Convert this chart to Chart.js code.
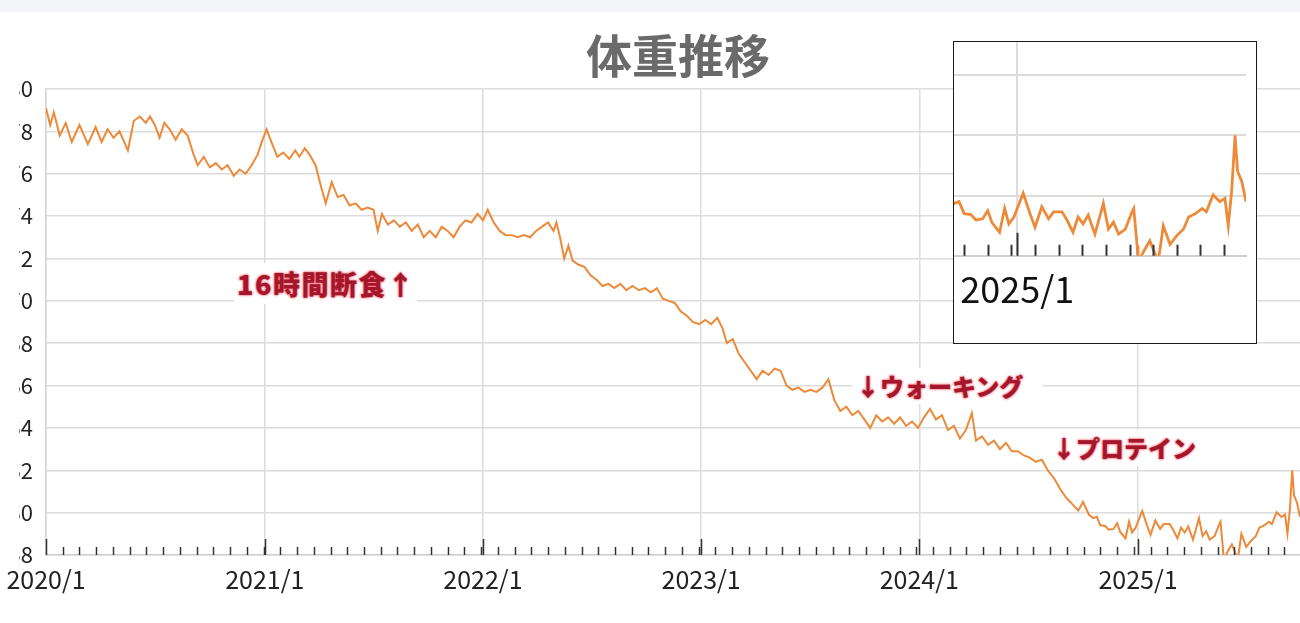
<!DOCTYPE html>
<html><head><meta charset="utf-8">
<script src="https://cdn.jsdelivr.net/npm/chart.js@4.4.1/dist/chart.umd.min.js"></script>
<style>
html,body{margin:0;padding:0;background:#fff;width:1300px;height:623px;overflow:hidden;}
#wrap{position:relative;width:1300px;height:623px;overflow:hidden;}
#topband{position:absolute;left:0;top:0;width:1300px;height:11px;background:#f4f5f9;box-shadow:0 1px 2px rgba(0,0,0,0.05);}
#title{position:absolute;left:578px;top:23px;width:200px;text-align:center;font:bold 46px "Noto Sans CJK JP";color:#6a6a6a;line-height:60px;}
#main{position:absolute;left:0;top:0;}
#inset{position:absolute;left:953px;top:41px;width:304px;height:303px;box-sizing:border-box;border:1.5px solid #1a1a1a;background:#fff;}
#insetc{position:absolute;left:0;top:0;}
.note{position:absolute;background:#fff;color:#a3172c;font-family:"Noto Sans CJK JP";font-weight:900;white-space:nowrap;
 text-shadow:0 0 2px #ff4d5e,0 0 3px #ff8a96;box-sizing:border-box;}
</style></head>
<body><div id="wrap">
<div id="topband"></div>
<canvas id="main" width="1300" height="623"></canvas>
<div id="title">体重推移</div>
<div class="note" style="left:234px;top:263px;width:183px;height:41px;line-height:41px;font-size:27px;padding-left:3px;letter-spacing:1.5px;">16時間断食↑</div>
<div class="note" style="left:852px;top:368px;width:191px;height:36px;line-height:36px;font-size:24px;padding-left:4px;">↓ウォーキング</div>
<div class="note" style="left:1048px;top:430px;width:157px;height:36px;line-height:36px;font-size:24px;padding-left:4px;">↓プロテイン</div>
<div id="inset"><canvas id="insetc" width="301" height="300"></canvas></div>
</div>
<script>
// ---- data ----
const dates = [
'2020-01-01','2020-01-08','2020-01-14','2020-01-24','2020-02-03','2020-02-13','2020-02-26','2020-03-11','2020-03-24','2020-04-03',
'2020-04-13','2020-04-23','2020-05-03','2020-05-17','2020-05-27','2020-06-06','2020-06-16','2020-06-23','2020-07-01','2020-07-09',
'2020-07-17','2020-07-26','2020-08-05','2020-08-15','2020-08-25','2020-09-04','2020-09-11','2020-09-21','2020-10-01','2020-10-11',
'2020-10-21','2020-10-31','2020-11-10','2020-11-20','2020-11-30','2020-12-10','2020-12-20','2020-12-27',
'2021-01-04','2021-01-12','2021-01-22','2021-02-01','2021-02-11','2021-02-21','2021-02-28','2021-03-09','2021-03-17','2021-03-27',
'2021-04-06','2021-04-13','2021-04-23','2021-05-03','2021-05-13','2021-05-23','2021-06-02','2021-06-12','2021-06-22','2021-07-02',
'2021-07-09','2021-07-16','2021-07-26','2021-08-05','2021-08-15','2021-08-25','2021-09-04','2021-09-14','2021-09-24','2021-10-04',
'2021-10-14','2021-10-24','2021-11-03','2021-11-13','2021-11-23','2021-12-03','2021-12-13','2021-12-23',
'2022-01-01','2022-01-09','2022-01-19','2022-01-29','2022-02-08','2022-02-18','2022-02-28','2022-03-11','2022-03-21','2022-03-31',
'2022-04-10','2022-04-20','2022-04-29','2022-05-04','2022-05-10','2022-05-17','2022-05-24','2022-05-31','2022-06-10','2022-06-20',
'2022-06-30','2022-07-10','2022-07-20','2022-07-30','2022-08-09','2022-08-19','2022-08-29','2022-09-08','2022-09-19','2022-09-29',
'2022-10-09','2022-10-19','2022-10-29','2022-11-08','2022-11-18','2022-11-28','2022-12-08','2022-12-18','2022-12-29',
'2023-01-08','2023-01-18','2023-01-28','2023-02-06','2023-02-13','2023-02-23','2023-03-05','2023-03-15','2023-03-25','2023-04-04',
'2023-04-14','2023-04-24','2023-05-04','2023-05-14','2023-05-24','2023-06-03','2023-06-13','2023-06-23','2023-07-03','2023-07-13',
'2023-07-23','2023-08-02','2023-08-12','2023-08-22','2023-09-01','2023-09-11','2023-09-21','2023-10-01','2023-10-11','2023-10-21',
'2023-10-31','2023-11-10','2023-11-20','2023-11-30','2023-12-10','2023-12-20','2023-12-30',
'2024-01-09','2024-01-19','2024-01-29','2024-02-08','2024-02-18','2024-02-28','2024-03-09','2024-03-19','2024-03-29','2024-04-05',
'2024-04-15','2024-04-25','2024-05-05','2024-05-15','2024-05-25','2024-06-04','2024-06-14','2024-06-24','2024-07-04','2024-07-14',
'2024-07-24','2024-08-03','2024-08-14','2024-08-24','2024-09-03','2024-09-13','2024-09-23','2024-10-01','2024-10-11','2024-10-18',
'2024-10-24','2024-10-30','2024-11-07','2024-11-13','2024-11-21','2024-11-27','2024-12-02','2024-12-11','2024-12-17','2024-12-22',
'2024-12-28',
'2025-01-08','2025-01-16','2025-01-22','2025-01-30','2025-02-07','2025-02-13','2025-02-23','2025-03-01','2025-03-08','2025-03-14',
'2025-03-20','2025-03-26','2025-04-03','2025-04-13','2025-04-19','2025-04-25','2025-05-01','2025-05-09','2025-05-17','2025-05-19',
'2025-05-23','2025-05-24','2025-06-01','2025-06-07','2025-06-17','2025-06-23','2025-07-01','2025-07-09','2025-07-17','2025-07-23',
'2025-07-31','2025-08-08','2025-08-13','2025-08-21','2025-08-29','2025-09-04','2025-09-08','2025-09-12','2025-09-16','2025-09-19',
'2025-09-24','2025-09-29'
];
const weights = [
79.1,78.3,78.9,77.8,78.4,77.5,78.3,77.4,78.2,77.5,
78.1,77.7,78.0,77.1,78.5,78.7,78.4,78.7,78.3,77.7,
78.4,78.1,77.6,78.1,77.8,76.9,76.4,76.8,76.3,76.5,
76.2,76.4,75.9,76.2,76.0,76.4,76.9,77.5,
78.1,77.5,76.8,77.0,76.7,77.1,76.8,77.2,76.9,76.4,
75.3,74.6,75.6,74.9,75.0,74.5,74.6,74.3,74.4,74.3,
73.3,74.1,73.6,73.8,73.5,73.7,73.3,73.6,73.0,73.3,
73.0,73.5,73.3,73.0,73.5,73.8,73.7,74.1,
73.8,74.3,73.7,73.3,73.1,73.1,73.0,73.1,73.0,73.3,
73.5,73.7,73.3,73.7,73.0,72.0,72.6,71.9,71.7,71.6,
71.2,71.0,70.7,70.8,70.6,70.8,70.5,70.7,70.5,70.6,
70.4,70.6,70.1,70.0,69.9,69.5,69.3,69.0,68.9,
69.1,68.9,69.2,68.7,68.0,68.2,67.5,67.1,66.7,66.3,
66.7,66.5,66.8,66.7,66.0,65.8,65.9,65.7,65.8,65.7,
65.9,66.3,65.3,64.8,65.0,64.6,64.8,64.4,64.0,64.6,
64.3,64.5,64.2,64.5,64.1,64.3,64.0,
64.5,64.9,64.4,64.6,63.9,64.1,63.5,63.9,64.7,63.4,
63.6,63.2,63.4,63.0,63.3,62.9,62.9,62.7,62.6,62.4,
62.5,62.0,61.6,61.1,60.7,60.4,60.1,60.5,59.9,59.74,
59.8,59.4,59.37,59.19,59.23,59.5,59.1,58.78,59.57,59.06,
59.29,
60.08,59.4,58.95,59.63,59.23,59.46,59.46,59.18,58.78,59.29,
59.06,59.35,58.72,59.74,58.89,59.12,58.72,58.89,59.46,59.57,
58.33,57.8,58.21,58.5,57.8,59.0,58.38,58.67,58.89,59.29,
59.4,59.57,59.46,60.02,59.8,59.91,59.0,60.14,62.0,60.81,
60.47,59.8
];
const yearTickDates = ['2020-01-01','2021-01-01','2022-01-01','2023-01-01','2024-01-01','2025-01-01'];
const yearTickLabels = ['2020/1','2021/1','2022/1','2023/1','2024/1','2025/1'];
const yMin = 58, yMax = 80, yStep = 2;
const minorTickDays = 28;
const insetStartDate = '2024-10-18';
const insetYMax = 65.1;

// ---- helpers ----
const DAY = 86400000, T0 = Date.UTC(2020,0,1);
const toDay = s => { const [y,m,d] = s.split('-').map(Number); return (Date.UTC(y,m-1,d) - T0) / DAY; };
const points = dates.map((d,i) => ({x: toDay(d), y: weights[i]}));
const yearDays = yearTickDates.map(toDay);
const xMax = toDay(dates[dates.length-1]);
const FONT = '"Noto Sans CJK JP", "Noto Sans", sans-serif';
const LINE = '#ec8a3a';
const GRID = '#dcdcdc';
const noEdgePad = s => { s.paddingLeft = 0; s.paddingRight = 0; };

const tickMarks = {
  id: 'tickMarks',
  afterDatasetsDraw(chart, args, o) {
    const xs = chart.scales.x, ca = chart.chartArea, ctx = chart.ctx;
    ctx.save();
    ctx.strokeStyle = o.color; ctx.lineWidth = o.width;
    ctx.beginPath();
    for (let d = 0; d <= xs.max; d += minorTickDays) {
      if (d < xs.min) continue;
      const px = Math.round(xs.getPixelForValue(d)) + 0.5;
      ctx.moveTo(px, ca.bottom); ctx.lineTo(px, ca.bottom - o.minor);
    }
    yearDays.forEach(d => {
      if (d < xs.min || d > xs.max) return;
      const px = Math.round(xs.getPixelForValue(d)) + 0.5;
      ctx.moveTo(px, ca.bottom); ctx.lineTo(px, ca.bottom - o.major);
    });
    ctx.stroke();
    ctx.restore();
  }
};
const labelMask = {
  id: 'labelMask',
  afterDraw(chart, args, o) {
    if (!o.width) return;
    const ca = chart.chartArea, ctx = chart.ctx;
    ctx.save(); ctx.fillStyle = '#fff';
    ctx.fillRect(0, ca.top - 16, o.width, ca.bottom - ca.top + 28);
    ctx.restore();
  }
};

new Chart(document.getElementById('main'), {
  type: 'line',
  data: { datasets: [{ data: points, borderColor: LINE, borderWidth: 2, pointRadius: 0, tension: 0, fill: false }] },
  options: {
    responsive: false, animation: false, devicePixelRatio: 1,
    layout: { padding: { top: 89, right: 0, bottom: 20, left: 0 } },
    plugins: { legend: { display: false }, tooltip: { enabled: false }, title: { display: false },
      tickMarks: { color: '#333', width: 1.5, minor: 8, major: 16 }, labelMask: { width: 19 } },
    scales: {
      x: { type: 'linear', min: 0, max: xMax,
        afterBuildTicks: s => { s.ticks = yearDays.map(v => ({ value: v })); },
        afterFit: noEdgePad,
        ticks: { autoSkip: false, maxRotation: 0, padding: 9, color: '#222',
          font: { family: FONT, size: 25 },
          callback: (v) => yearTickLabels[yearDays.indexOf(v)] },
        grid: { color: GRID, lineWidth: 1.5, drawTicks: false },
        border: { color: '#cfcfcf', width: 1.5 } },
      y: { min: yMin, max: yMax,
        ticks: { stepSize: yStep, padding: 13, color: '#222', font: { family: FONT, size: 22 } },
        grid: { color: GRID, lineWidth: 1.5, drawTicks: false },
        border: { color: '#d6d6d6', width: 1.5 },
        afterFit: s => { s.width = 46; } }
    }
  },
  plugins: [tickMarks, labelMask]
});

const insetMin = toDay(insetStartDate);
new Chart(document.getElementById('insetc'), {
  type: 'line',
  data: { datasets: [{ data: points, borderColor: LINE, borderWidth: 2.8, pointRadius: 0, tension: 0, fill: false }] },
  options: {
    responsive: false, animation: false, devicePixelRatio: 1,
    layout: { padding: { top: 0, right: 9, bottom: 19, left: 0 } },
    plugins: { legend: { display: false }, tooltip: { enabled: false },
      tickMarks: { color: '#333', width: 2, minor: 11, major: 23 }, labelMask: { width: 0 } },
    scales: {
      x: { type: 'linear', min: insetMin, max: xMax,
        afterBuildTicks: s => { s.ticks = yearDays.filter(v => v >= insetMin && v <= xMax).map(v => ({ value: v })); },
        afterFit: noEdgePad,
        ticks: { autoSkip: false, maxRotation: 0, padding: 12, color: '#111',
          font: { family: FONT, size: 36 },
          callback: (v) => yearTickLabels[yearDays.indexOf(v)] },
        grid: { color: GRID, lineWidth: 2, drawTicks: false },
        border: { color: '#cfcfcf', width: 2 } },
      y: { min: yMin, max: insetYMax,
        afterBuildTicks: s => { const t = []; for (let v = yMin; v < insetYMax; v += yStep) t.push({ value: v }); s.ticks = t; },
        ticks: { display: false },
        grid: { color: GRID, lineWidth: 2, drawTicks: false },
        border: { display: false },
        afterFit: s => { s.width = 0; } }
    }
  },
  plugins: [tickMarks, labelMask]
});
</script>
</body></html>
